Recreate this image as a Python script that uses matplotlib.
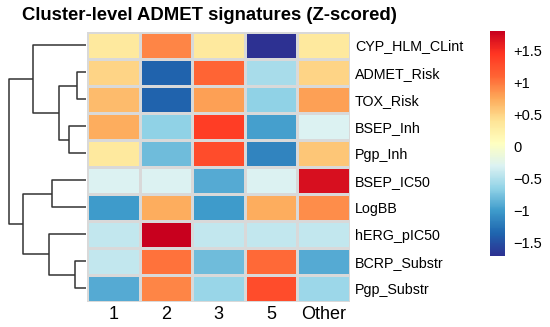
import numpy as np
import matplotlib.pyplot as plt
import matplotlib as mpl

plt.rcParams['font.family'] = ['Liberation Sans', 'DejaVu Sans']

# row-scaled (z-score) ADMET values per cluster, rows in dendrogram order
clusters = ['1', '2', '3', '5', 'Other']
features = ['CYP_HLM_CLint', 'ADMET_Risk', 'TOX_Risk', 'BSEP_Inh', 'Pgp_Inh',
            'BSEP_IC50', 'LogBB', 'hERG_pIC50', 'BCRP_Substr', 'Pgp_Substr']
cyp_hlm = [0.33, 0.93, 0.33, -1.70, 0.33]
admet_risk = [0.50, -1.36, 1.10, -0.55, 0.50]
tox_risk = [0.65, -1.36, 0.79, -0.65, 0.79]
bsep_inh = [0.72, -0.65, 1.38, -0.97, -0.30]
pgp_inh = [0.33, -0.79, 1.28, -1.14, 0.58]
bsep_ic50 = [-0.30, -0.30, -0.90, -0.30, 1.70]
logbb = [-1.00, 0.72, -1.00, 0.72, 0.89]
herg = [-0.42, 1.80, -0.42, -0.42, -0.42]
bcrp = [-0.42, 1.03, -0.79, 1.07, -0.90]
pgp_substr = [-0.90, 0.93, -0.61, 1.28, -0.60]
z = np.array([cyp_hlm, admet_risk, tox_risk, bsep_inh, pgp_inh,
              bsep_ic50, logbb, herg, bcrp, pgp_substr])

# row dendrogram: (left, right, height), leaves 0..9 in display order
row_merges = [(1, 2, 9.8), (8, 9, 12.0), (3, 4, 17.2), (10, 12, 27.5),
              (5, 6, 34.8), (7, 11, 38.0), (0, 13, 53.8), (14, 15, 64.0),
              (16, 17, 78.0)]

cbar_ticks = [-1.5, -1, -0.5, 0, 0.5, 1, 1.5]
cbar_labels = ['\u22121.5', '\u22121', '\u22120.5', '0', '+0.5', '+1', '+1.5']

# palette picked off the reference colour key (blue -> yellow -> red)
palette = ['#2d3192', '#1f66af', '#3e9bcb', '#92d3e7', '#dcf2f2', '#ffffc0',
           '#fee496', '#fdaa5a', '#ff6434', '#ff3522', '#c8001e']

W, H = 550, 327
fig = plt.figure(figsize=(W / 100, H / 100), dpi=100)

def box(x0, y0, x1, y1):
    return [x0 / W, 1 - y1 / H, (x1 - x0) / W, (y1 - y0) / H]

vmin, vmax = z.min(), z.max()
cmap = mpl.colors.LinearSegmentedColormap.from_list('admet', palette, N=256)
norm = mpl.colors.Normalize(vmin=vmin, vmax=vmax)

# heatmap
ax = fig.add_axes(box(87.3, 31.5, 349.5, 301.7))
ax.pcolormesh(z, cmap=cmap, norm=norm, edgecolors='#d9d9d9', linewidth=1)
ax.set_xlim(0, len(clusters))
ax.set_ylim(len(features), 0)
ax.set_xticks(np.arange(len(clusters)) + 0.5)
ax.set_xticklabels(clusters, fontsize=13)
ax.set_yticks(np.arange(len(features)) + 0.5)
ax.set_yticklabels(features, fontsize=10.3)
ax.yaxis.tick_right()
ax.tick_params(length=0, pad=4)
ax.tick_params(axis='x', pad=3)
for s in ax.spines.values():
    s.set_visible(False)

# dendrogram
dax = fig.add_axes(box(8.7, 31.5, 86.5, 301.7))
pos = {i: (i + 0.5, 0.0) for i in range(len(features))}
for k, (a, b, h) in enumerate(row_merges):
    ya, ha = pos[a]
    yb, hb = pos[b]
    dax.plot([ha, h, h, hb], [ya, ya, yb, yb], color='#333333', lw=1.1,
             clip_on=False, solid_capstyle='butt')
    pos[len(features) + k] = ((ya + yb) / 2, h)
dax.set_xlim(row_merges[-1][2], 0)
dax.set_ylim(len(features), 0)
dax.axis('off')

# colorbar
cax = fig.add_axes(box(490, 31, 505.3, 255.7))
cb = fig.colorbar(mpl.cm.ScalarMappable(norm=norm, cmap=cmap), cax=cax)
cb.outline.set_visible(False)
cb.set_ticks(cbar_ticks)
cb.set_ticklabels(cbar_labels)
cax.tick_params(length=0, labelsize=10.5, pad=6)

fig.text(22 / W, 1 - 16 / H, 'Cluster-level ADMET signatures (Z-scored)',
         fontsize=13.3, fontweight='bold', va='center', ha='left')

fig.savefig('out.png', dpi=100)
